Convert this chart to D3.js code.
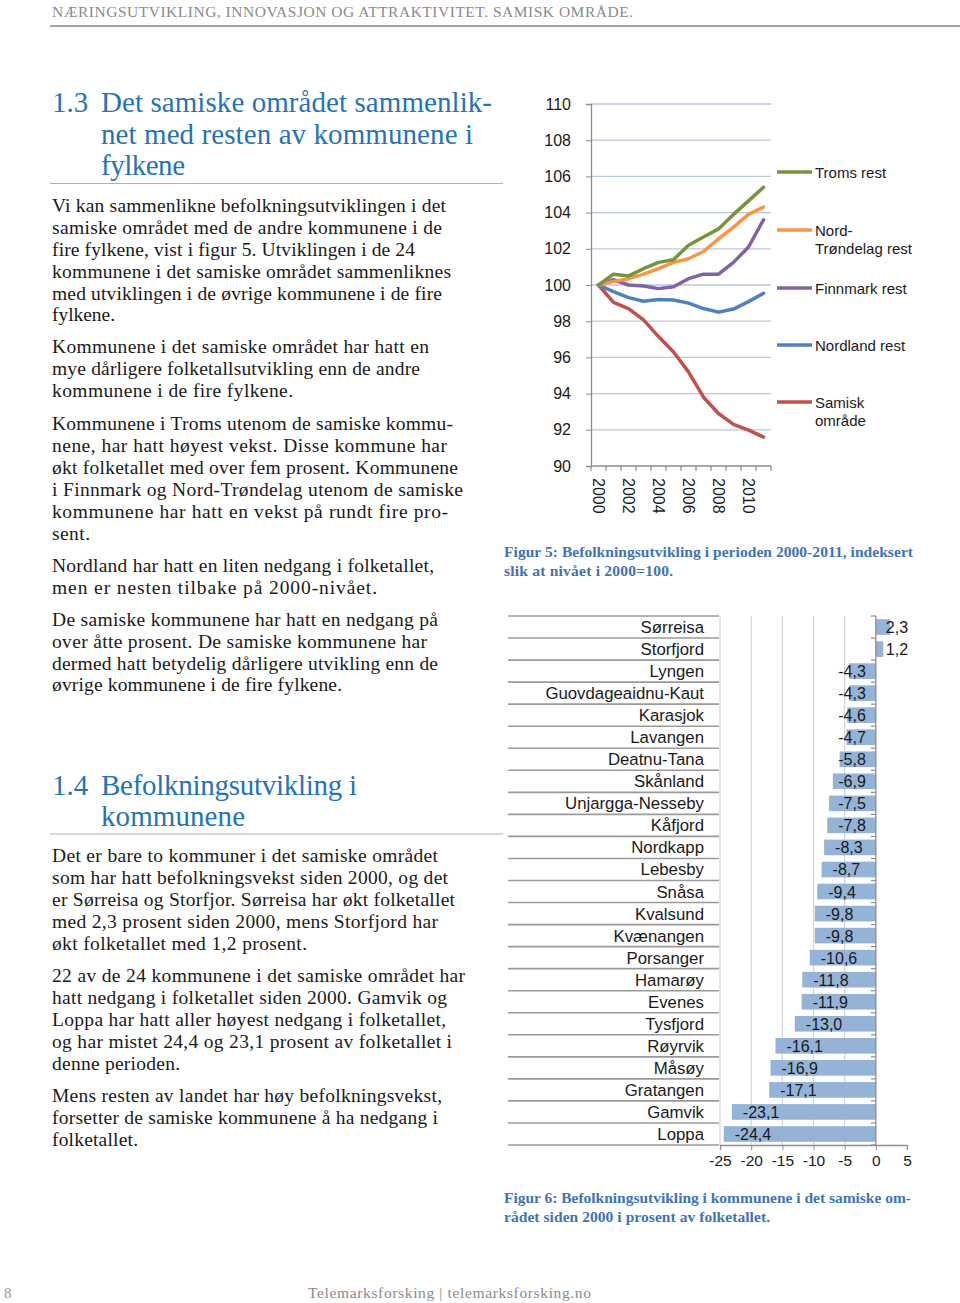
<!DOCTYPE html>
<html><head><meta charset="utf-8">
<script src="https://cdn.jsdelivr.net/npm/d3@7"></script>
<style>
html,body{margin:0;padding:0;background:#fff;}
svg{display:block;}
.serif{font-family:"Liberation Serif","Times New Roman",serif;}
.sans{font-family:"Liberation Sans",Arial,sans-serif;}
</style></head>
<body>
<svg id="page" width="960" height="1303"></svg>
<script>
// ---------- DATA ----------
const years = [2000,2001,2002,2003,2004,2005,2006,2007,2008,2009,2010,2011];
const yearLabels = [2000,2002,2004,2006,2008,2010];
const indexTicks = [90,92,94,96,98,100,102,104,106,108,110];
const tromsRest        = [100,100.6,100.5,100.9,101.25,101.4,102.2,102.65,103.1,103.9,104.65,105.4];
const nordTrondelagRest= [100,100.2,100.35,100.6,100.9,101.25,101.45,101.85,102.55,103.2,103.9,104.3];
const finnmarkRest     = [100,100.3,100.0,99.95,99.8,99.9,100.35,100.6,100.6,101.25,102.1,103.6];
const nordlandRest     = [100,99.63,99.3,99.1,99.2,99.17,99.0,98.7,98.5,98.67,99.08,99.54];
const samiskOmrade     = [100,99.04,98.7,98.07,97.15,96.3,95.2,93.8,92.9,92.3,91.98,91.6];
const seriesNames = [["Troms rest"],["Nord-","Trøndelag rest"],["Finnmark rest"],["Nordland rest"],["Samisk","område"]];

const kommuner = ["Sørreisa","Storfjord","Lyngen","Guovdageaidnu-Kaut","Karasjok","Lavangen","Deatnu-Tana","Skånland","Unjargga-Nesseby","Kåfjord","Nordkapp","Lebesby","Snåsa","Kvalsund","Kvænangen","Porsanger","Hamarøy","Evenes","Tysfjord","Røyrvik","Måsøy","Gratangen","Gamvik","Loppa"];
const endring = [2.3,1.2,-4.3,-4.3,-4.6,-4.7,-5.8,-6.9,-7.5,-7.8,-8.3,-8.7,-9.4,-9.8,-9.8,-10.6,-11.8,-11.9,-13.0,-16.1,-16.9,-17.1,-23.1,-24.4];
const endringTicks = [-25,-20,-15,-10,-5,0,5];

// ---------- STYLE / LAYOUT ----------
const seriesColors = ["#77933c","#f79646","#8064a2","#4f81bd","#c0504d"];
const legendY = [172,230,288,345,402];
const blue = "#2474b5";
const capBlue = "#3f74b1";

const loc = d3.formatLocale({decimal:",", thousands:" ", grouping:[3], currency:["","kr"], minus:"-"});
const fmtInt = loc.format("d");
const fmt1 = loc.format(".1f");

const svg = d3.select("#page");

// text helper
function line(x, y, str, opts){
  const t = svg.append("text").attr("x",x).attr("y",y).text(str)
    .attr("class", opts.cls || "serif")
    .attr("font-size", opts.size || 19.5)
    .attr("fill", opts.fill || "#1a1a1a");
  if(opts.weight) t.attr("font-weight", opts.weight);
  if(opts.end){ t.attr("textLength", opts.end - x).attr("lengthAdjust","spacing"); }
  return t;
}

// header
line(52,17,"NÆRINGSUTVIKLING, INNOVASJON OG ATTRAKTIVITET. SAMISK OMRÅDE.",{size:15.5,fill:"#8a8a8a",end:633});
svg.append("line").attr("x1",50).attr("x2",960).attr("y1",26).attr("y2",26).attr("stroke","#a6a6a6").attr("stroke-width",2);

// heading 1.3
line(52,112,"1.3",{size:29,fill:blue});
line(101,112,"Det samiske området sammenlik-",{size:29,fill:blue,end:492});
line(101,144,"net med resten av kommunene i",{size:29,fill:blue,end:473});
line(101,175,"fylkene",{size:29,fill:blue,end:185});
svg.append("line").attr("x1",50).attr("x2",503).attr("y1",183.5).attr("y2",183.5).attr("stroke","#b0b0b0").attr("stroke-width",1.2);

const body = [
 [212,"Vi kan sammenlikne befolkningsutviklingen i det",446],
 [234,"samiske området med de andre kommunene i de",442],
 [256,"fire fylkene, vist i figur 5. Utviklingen i de 24",415],
 [277.5,"kommunene i det samiske området sammenliknes",451],
 [299.5,"med utviklingen i de øvrige kommunene i de fire",442],
 [321,"fylkene.",115],
 [353,"Kommunene i det samiske området har hatt en",429],
 [375,"mye dårligere folketallsutvikling enn de andre",420],
 [397,"kommunene i de fire fylkene.",293],
 [430,"Kommunene i Troms utenom de samiske kommu-",453],
 [452,"nene, har hatt høyest vekst. Disse kommune har",447],
 [474,"økt folketallet med over fem prosent. Kommunene",458],
 [496,"i Finnmark og Nord-Trøndelag utenom de samiske",463],
 [517.5,"kommunene har hatt en vekst på rundt fire pro-",448],
 [539.5,"sent.",90],
 [571.5,"Nordland har hatt en liten nedgang i folketallet,",434],
 [593.5,"men er nesten tilbake på 2000-nivået.",377],
 [625.5,"De samiske kommunene har hatt en nedgang på",438],
 [647.5,"over åtte prosent. De samiske kommunene har",427],
 [669.5,"dermed hatt betydelig dårligere utvikling enn de",438],
 [691,"øvrige kommunene i de fire fylkene.",342],
 [862,"Det er bare to kommuner i det samiske området",438],
 [884,"som har hatt befolkningsvekst siden 2000, og det",448],
 [906,"er Sørreisa og Storfjor. Sørreisa har økt folketallet",455],
 [928,"med 2,3 prosent siden 2000, mens Storfjord har",438],
 [950,"økt folketallet med 1,2 prosent.",307],
 [982,"22 av de 24 kommunene i det samiske området har",465],
 [1004,"hatt nedgang i folketallet siden 2000. Gamvik og",447],
 [1026,"Loppa har hatt aller høyest nedgang i folketallet,",446],
 [1048,"og har mistet 24,4 og 23,1 prosent av folketallet i",452],
 [1070,"denne perioden.",180],
 [1102,"Mens resten av landet har høy befolkningsvekst,",442],
 [1124,"forsetter de samiske kommunene å ha nedgang i",438],
 [1146,"folketallet.",138]
];
body.forEach(d => line(52,d[0],d[1],{end:d[2]}));

// heading 1.4
line(52,795,"1.4",{size:29,fill:blue});
line(101,795,"Befolkningsutvikling i",{size:29,fill:blue,end:357});
line(101,826,"kommunene",{size:29,fill:blue,end:245});
svg.append("line").attr("x1",50).attr("x2",503).attr("y1",834).attr("y2",834).attr("stroke","#b0b0b0").attr("stroke-width",1.2);

// captions
line(504,557,"Figur 5: Befolkningsutvikling i perioden 2000-2011, indeksert",{size:15.5,fill:capBlue,weight:"bold",end:913});
line(504,576,"slik at nivået i 2000=100.",{size:15.5,fill:capBlue,weight:"bold",end:673});
line(504,1203,"Figur 6: Befolkningsutvikling i kommunene i det samiske om-",{size:15.5,fill:capBlue,weight:"bold",end:911});
line(504,1222,"rådet siden 2000 i prosent av folketallet.",{size:15.5,fill:capBlue,weight:"bold",end:770});

// footer
line(4,1298,"8",{size:15,fill:"#999"});
line(308,1298,"Telemarksforsking  |  telemarksforsking.no",{size:15.5,fill:"#8a8a8a",end:591});

// ---------- LINE CHART ----------
const lc = svg.append("g").attr("class","sans");
const xB = d3.scaleBand().domain(years).range([591,771]);
const yL = d3.scaleLinear().domain([90,110]).range([466,104]);
const xC = d => xB(d) + xB.bandwidth()/2;

// gridlines
lc.selectAll(".grid").data(indexTicks.filter(d=>d>90)).join("line")
  .attr("x1",591).attr("x2",771).attr("y1",d=>yL(d)).attr("y2",d=>yL(d))
  .attr("stroke","#b9c9db").attr("stroke-width",1.3);
// y axis
const yAxis = d3.axisLeft(yL).tickValues(indexTicks).tickSize(5).tickPadding(15).tickFormat(fmtInt);
const ya = lc.append("g").attr("transform","translate(591,0)").call(yAxis);
ya.select(".domain").attr("stroke","#8c8c8c").attr("stroke-width",1.3);
ya.selectAll(".tick line").attr("stroke","#8c8c8c");
ya.selectAll("text").attr("font-size",16).attr("fill","#1a1a1a").attr("font-family","Liberation Sans, Arial, sans-serif");
// x axis
lc.append("line").attr("x1",591).attr("x2",771).attr("y1",466).attr("y2",466).attr("stroke","#8c8c8c").attr("stroke-width",1.3);
const bounds = years.map(y=>xB(y)).concat([xB(years[years.length-1])+xB.bandwidth()]);
lc.selectAll(".xt").data(bounds).join("line")
  .attr("x1",d=>d).attr("x2",d=>d).attr("y1",466).attr("y2",471).attr("stroke","#8c8c8c").attr("stroke-width",1.2);
lc.selectAll(".xl").data(yearLabels).join("text")
  .attr("transform",d=>`translate(${xC(d)-6},478) rotate(90)`)
  .attr("font-size",16).attr("fill","#1a1a1a").text(d=>d);

// lines
const allSeries = [tromsRest,nordTrondelagRest,finnmarkRest,nordlandRest,samiskOmrade];
const lineGen = d3.line().x((d,i)=>xC(years[i])).y(d=>yL(d));
[4,3,2,1,0].forEach(i=>{
  lc.append("path").attr("d",lineGen(allSeries[i])).attr("fill","none")
    .attr("stroke",seriesColors[i]).attr("stroke-width",3.5).attr("stroke-linejoin","round").attr("stroke-linecap","round");
});
// legend
seriesNames.forEach((nm,i)=>{
  lc.append("line").attr("x1",777).attr("x2",812).attr("y1",legendY[i]).attr("y2",legendY[i])
    .attr("stroke",seriesColors[i]).attr("stroke-width",3.5);
  nm.forEach((s,j)=>{
    lc.append("text").attr("x",815).attr("y",legendY[i]+6+j*18).attr("font-size",15).attr("fill","#1a1a1a").text(s);
  });
});

// ---------- BAR CHART ----------
const bc = svg.append("g").attr("class","sans");
const yBand = d3.scaleBand().domain(kommuner).range([616,1145]).paddingInner(0.29).paddingOuter(0.145);
const yFull = d3.scaleBand().domain(kommuner).range([616,1145]);
const xV = d3.scaleLinear().domain([-25,5]).range([720,907]);

// separator lines in label area
const sepY = kommuner.map(k=>yFull(k)).concat([1145]);
bc.selectAll(".sep").data(sepY).join("line")
  .attr("x1",508).attr("x2",719).attr("y1",d=>d).attr("y2",d=>d)
  .attr("stroke","#9a9a9a").attr("stroke-width",1.6);
// vertical gridlines
bc.selectAll(".vg").data(endringTicks.filter(d=>d<0)).join("line")
  .attr("x1",d=>xV(d)).attr("x2",d=>xV(d)).attr("y1",616).attr("y2",1145)
  .attr("stroke","#d3d3d3").attr("stroke-width",1.2);
// bars
bc.selectAll(".bar").data(endring).join("rect")
  .attr("x",d=>Math.min(xV(0),xV(d))).attr("width",d=>Math.abs(xV(d)-xV(0)))
  .attr("y",(d,i)=>yBand(kommuner[i])).attr("height",yBand.bandwidth())
  .attr("fill","#95b3d7");
// zero axis + ticks
bc.append("line").attr("x1",xV(0)).attr("x2",xV(0)).attr("y1",616).attr("y2",1145).attr("stroke","#8c8c8c").attr("stroke-width",1.3);
bc.selectAll(".zt").data(sepY).join("line")
  .attr("x1",xV(0)-5).attr("x2",xV(0)).attr("y1",d=>d).attr("y2",d=>d).attr("stroke","#8c8c8c").attr("stroke-width",1.2);
// bottom axis
const xAxis = d3.axisBottom(xV).tickValues(endringTicks).tickSize(5).tickPadding(5).tickFormat(fmtInt);
const xa = bc.append("g").attr("transform","translate(0,1145)").call(xAxis);
xa.select(".domain").attr("stroke","#8c8c8c").attr("stroke-width",1.3);
xa.selectAll(".tick line").attr("stroke","#8c8c8c");
xa.selectAll("text").attr("font-size",15.5).attr("fill","#1a1a1a").attr("font-family","Liberation Sans, Arial, sans-serif");
// category labels
bc.selectAll(".cat").data(kommuner).join("text")
  .attr("x",704).attr("y",d=>yFull(d)+yFull.bandwidth()/2+6)
  .attr("text-anchor","end").attr("font-size",16.8).attr("fill","#1a1a1a").text(d=>d);
// value labels (inside end, clamped away from base)
endring.forEach((v,i)=>{
  const t = bc.append("text").attr("font-size",16).attr("fill","#1a1a1a")
    .attr("y",yFull(kommuner[i])+yFull.bandwidth()/2+6).text(fmt1(v));
  const w = t.node().getComputedTextLength();
  let x;
  if(v<0){ x = Math.min(xV(v)+11, xV(0)-10-w); }
  else { x = Math.max(xV(v)-11-w, xV(0)+10); }
  t.attr("x",x);
});
</script>
</body></html>
